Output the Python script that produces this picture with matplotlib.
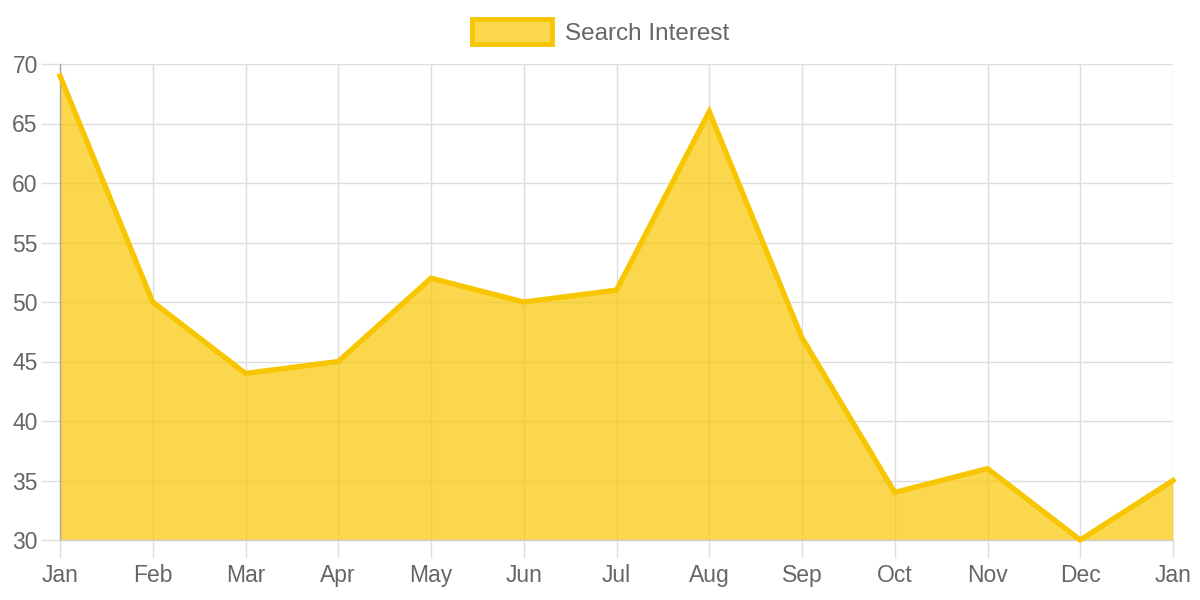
import matplotlib.pyplot as plt
from matplotlib.patches import Rectangle

plt.rcParams['font.family'] = ['Liberation Sans', 'DejaVu Sans']

months = ['Jan', 'Feb', 'Mar', 'Apr', 'May', 'Jun', 'Jul', 'Aug', 'Sep', 'Oct', 'Nov', 'Dec', 'Jan']
interest = [69, 50, 44, 45, 52, 50, 51, 66, 47, 34, 36, 30, 35]
series_name = 'Search Interest'

line_color = '#F8C600'
fill_color = (248 / 255, 198 / 255, 0, 0.7)
grid_color = '#dedede'
text_color = '#666666'

fig = plt.figure(figsize=(12, 6), dpi=100)
ax = fig.add_axes([60 / 1200, 1 - 540 / 600, 1113 / 1200, 476 / 600])

x = list(range(len(months)))
ax.fill_between(x, interest, 30, color=fill_color, linewidth=0, zorder=2)
ax.plot(x, interest, color=line_color, linewidth=3.8, solid_joinstyle='miter', zorder=3, clip_on=False)

ax.set_xlim(0, len(months) - 1)
ax.set_ylim(30, 70)
ax.set_xticks(x)
ax.set_xticklabels(months)
ax.set_yticks(range(30, 71, 5))

ax.grid(True, color=grid_color, linewidth=1, zorder=1)
ax.tick_params(axis='both', colors=grid_color, labelcolor=text_color, labelsize=16.5, width=1)
ax.tick_params(axis='x', length=13, pad=4.5)
ax.tick_params(axis='y', length=14, pad=2)

for side in ['top', 'right']:
    ax.spines[side].set_visible(False)
ax.spines['left'].set_color('#a8a8a8')
ax.spines['bottom'].set_color('#cfcfcf')
ax.spines['left'].set_linewidth(1)
ax.spines['bottom'].set_linewidth(1)

# legend drawn by hand, like the chart.js box
fig.patches.append(Rectangle((472 / 1200, 1 - 44 / 600), 80 / 1200, 25 / 600,
                             transform=fig.transFigure, facecolor=fill_color,
                             edgecolor=line_color, linewidth=3.5))
fig.text(565 / 1200, 1 - 33.5 / 600, series_name, color=text_color, fontsize=17.5,
         va='center', ha='left')

fig.savefig('out.png', dpi=100)
